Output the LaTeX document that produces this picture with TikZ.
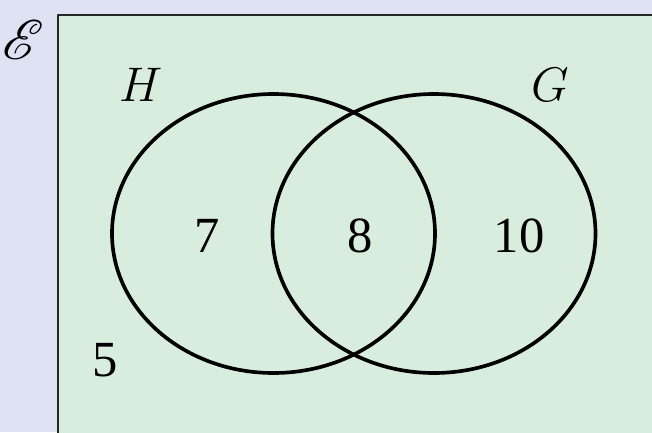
\documentclass[tikz,border=0pt]{standalone}
\usepackage{fontspec}
\setmainfont{Liberation Serif}
\usepackage{mathrsfs}
\usepackage{xcolor}
\definecolor{outerbg}{RGB}{222,226,242}
\definecolor{innerbg}{RGB}{217,237,223}

\begin{document}
\begin{tikzpicture}[x=0.0125cm, y=-0.0125cm, line cap=round, line join=round,
  lbl/.style={font=\fontsize{18}{21}\selectfont}]


\def\rx{161.5}
\def\ry{139.5}


\useasboundingbox (0,0) rectangle (652,432);
\clip (0,0) rectangle (652,432);
\fill[outerbg] (0,0) rectangle (652,432);


\filldraw[fill=innerbg, draw=black!85, line width=0.9pt] (58,15) rectangle (680,460);


\coordinate (hc) at (273.5,233.5);
\coordinate (gc) at (434,233.5);
\draw[line width=1.3pt] (hc) ellipse[x radius=\rx, y radius=\ry];
\draw[line width=1.3pt] (gc) ellipse[x radius=\rx, y radius=\ry];


\node[lbl, scale=1.15] (univ) at (23,40) {$\mathscr{E}$};
\node[lbl] (setH) at (141,85) {$H$};
\node[lbl] (setG) at (550,85) {$G$};


\node[lbl] (onlyH) at (207,236) {7};
\node[lbl] (both) at (360,236) {8};
\node[lbl] (onlyG) at (519,236) {10};
\node[lbl] (none) at (105,360) {5};

\end{tikzpicture}
\end{document}
